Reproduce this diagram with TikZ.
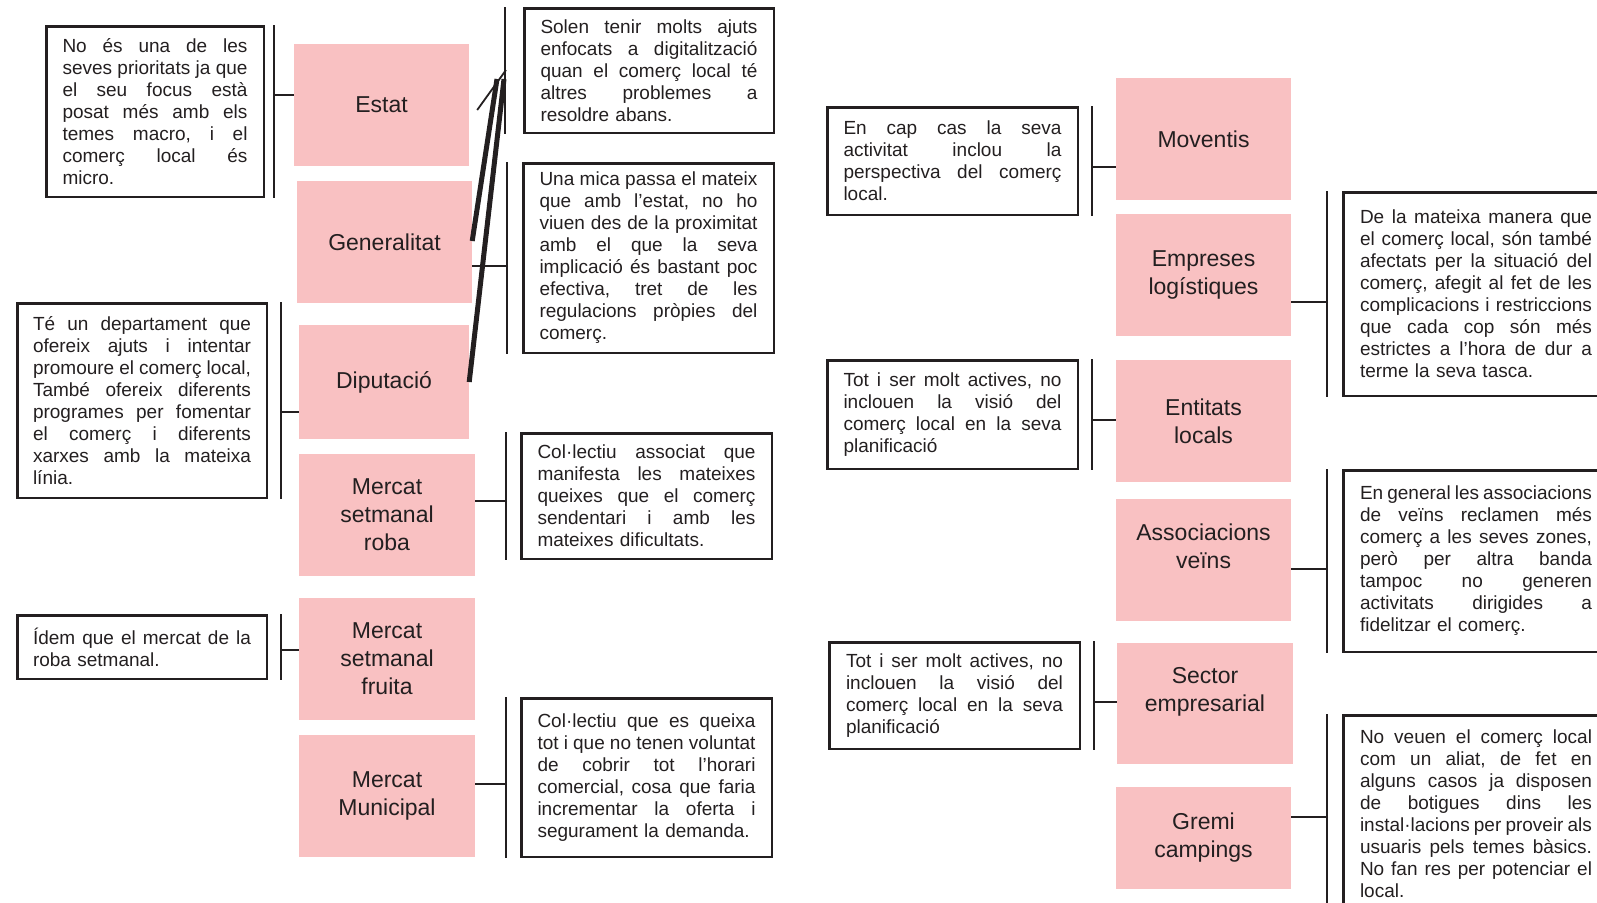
\documentclass[tikz,border=0pt]{standalone}
\usepackage{fontspec}
\setmainfont{Liberation Sans}
\usetikzlibrary{calc}
\definecolor{pinkc}{RGB}{249,193,194}
\definecolor{ink}{RGB}{35,31,32}
\newlength\mytw
\newcommand\jl[1]{\hbox to\mytw{\frenchspacing\spaceskip=0.278em plus 1fil minus 0.09em\relax #1}}
\newcommand\lastl[1]{\hbox{#1}}
\begin{document}
\begin{tikzpicture}[x=1pt,y=-1pt,
  tbox/.style={draw=ink, line width=2.5pt, text=ink, inner sep=0pt, font=\fontsize{19}{22}\selectfont},
  tw/.style={text width=#1, execute at begin node={\global\mytw=#1\relax}},
  pbox/.style={fill=pinkc, text=ink, inner sep=0pt, align=center, font=\fontsize{23}{28}\selectfont, minimum width=175pt, minimum height=122pt},
  brk/.style={draw=ink, line width=2.4pt},
  diag/.style={draw=ink, line width=#1},
]
\useasboundingbox (0,0) rectangle (1597,902);
\clip (0,0) rectangle (1597,902);

% ---------- pink boxes ----------
\node[pbox] (estat) at (381.5,105) {Estat};
\node[pbox] (gen) at (384.5,242) {Generalitat};
\node[pbox, minimum width=170pt, minimum height=114pt] (dip) at (384,382) {Diputació};
\node[pbox, minimum width=176pt] (roba) at (387,515) {Mercat\\setmanal\\roba};
\node[pbox, minimum width=176pt] (fruita) at (387,659) {Mercat\\setmanal\\fruita};
\node[pbox, minimum width=176pt] (muni) at (387,796) {Mercat\\Municipal};
\node[pbox] (moventis) at (1203.5,139) {Moventis};
\node[pbox] (empreses) at (1203.5,275) {Empreses\\logístiques};
\node[pbox] (entitats) at (1203.5,421) {Entitats\\locals};
\node[pbox] (assoc) at (1203.5,560) {Associacions\\veïns\\\mbox{}};
\node[pbox, minimum width=176pt, minimum height=121pt] (sector) at (1205,703.5) {Sector\\empresarial\\\mbox{}};
\node[pbox, minimum height=102pt] (gremi) at (1203.5,838) {Gremi\\campings};

% ---------- text boxes ----------
\node[tbox, minimum width=217.5pt, minimum height=170.5pt, tw=185pt] (A) at (155,111.5) {%
\jl{No és una de les}
\jl{seves prioritats ja que}
\jl{el seu focus està}
\jl{posat més amb els}
\jl{temes macro, i el}
\jl{comerç local és}
\lastl{micro.}};

\node[tbox, minimum width=249.5pt, minimum height=194.5pt, tw=218pt] (B) at (142,400.5) {%
\jl{Té un departament que}
\jl{ofereix ajuts i intentar}
\jl{promoure el comerç local,}
\jl{També ofereix diferents}
\jl{programes per fomentar}
\jl{el comerç i diferents}
\jl{xarxes amb la mateixa}
\lastl{línia.}};

\node[tbox, minimum width=249.5pt, minimum height=63.5pt, tw=218pt] (C) at (142,647) {%
\jl{Ídem que el mercat de la}
\lastl{roba setmanal.}};

\node[tbox, minimum width=249.5pt, minimum height=124.5pt, tw=217pt] (D) at (649,70.5) {%
\jl{Solen tenir molts ajuts}
\jl{enfocats a digitalització}
\jl{quan el comerç local té}
\jl{altres problemes a}
\lastl{resoldre abans.}};

\node[tbox, minimum width=250.5pt, minimum height=189.5pt, tw=218pt] (E) at (648.5,258) {%
\jl{Una mica passa el mateix}
\jl{que amb l’estat, no ho}
\jl{viuen des de la proximitat}
\jl{amb el que la seva}
\jl{implicació és bastant poc}
\jl{efectiva, tret de les}
\jl{regulacions pròpies del}
\lastl{comerç.}};

\node[tbox, minimum width=250.5pt, minimum height=125.5pt, tw=218pt] (F) at (646.5,496) {%
\jl{Col·lectiu associat que}
\jl{manifesta les mateixes}
\jl{queixes que el comerç}
\jl{sendentari i amb les}
\lastl{mateixes dificultats.}};

\node[tbox, minimum width=250.5pt, minimum height=158.5pt, tw=218pt] (G) at (646.5,777.5) {%
\jl{Col·lectiu que es queixa}
\jl{tot i que no tenen voluntat}
\jl{de cobrir tot l’horari}
\jl{comercial, cosa que faria}
\jl{incrementar la oferta i}
\lastl{segurament la demanda.}};

\node[tbox, minimum width=250.5pt, minimum height=107.5pt, tw=218pt] (H) at (952.5,161) {%
\jl{En cap cas la seva}
\jl{activitat inclou la}
\jl{perspectiva del comerç}
\lastl{local.}};

\node[tbox, minimum width=250.5pt, minimum height=108.5pt, tw=218pt] (I) at (952.5,414.5) {%
\jl{Tot i ser molt actives, no}
\jl{inclouen la visió del}
\jl{comerç local en la seva}
\lastl{planificació}};

\node[tbox, minimum width=250.5pt, minimum height=106.5pt, tw=217pt] (J) at (954.5,695.5) {%
\jl{Tot i ser molt actives, no}
\jl{inclouen la visió del}
\jl{comerç local en la seva}
\lastl{planificació}};

\node[tbox, minimum width=265.5pt, minimum height=203.5pt, tw=232pt] (K) at (1476,294) {%
\jl{De la mateixa manera que}
\jl{el comerç local, són també}
\jl{afectats per la situació del}
\jl{comerç, afegit al fet de les}
\jl{complicacions i restriccions}
\jl{que cada cop són més}
\jl{estrictes a l’hora de dur a}
\lastl{terme la seva tasca.}};

\node[tbox, minimum width=265.5pt, minimum height=181.5pt, tw=232pt] (L) at (1476,561) {%
\jl{En general les associacions}
\jl{de veïns reclamen més}
\jl{comerç a les seves zones,}
\jl{però per altra banda}
\jl{tampoc no generen}
\jl{activitats dirigides a}
\lastl{fidelitzar el comerç.}};

\node[tbox, minimum width=265.5pt, minimum height=197.5pt, tw=232pt] (M) at (1476,814) {%
\jl{No veuen el comerç local}
\jl{com un aliat, de fet en}
\jl{alguns casos ja disposen}
\jl{de botigues dins les}
\jl{instal·lacions per proveir als}
\jl{usuaris pels temes bàsics.}
\jl{No fan res per potenciar el}
\lastl{local.}};

% ---------- bracket verticals ----------
\draw[brk] ($(A.north east)+(9,0)$) -- ($(A.south east)+(9,0)$);
\draw[brk] ($(B.north east)+(13,0)$) -- ($(B.south east)+(13,0)$);
\draw[brk] ($(C.north east)+(13,0)$) -- ($(C.south east)+(13,0)$);
\draw[brk] ($(D.north west)+(-18,0)$) -- ($(D.south west)+(-18,0)$);
\draw[brk] ($(E.north west)+(-15,0)$) -- ($(E.south west)+(-15,0)$);
\draw[brk] ($(F.north west)+(-14,0)$) -- ($(F.south west)+(-14,0)$);
\draw[brk] ($(G.north west)+(-14,0)$) -- ($(G.south west)+(-14,0)$);
\draw[brk] ($(H.north east)+(13,0)$) -- ($(H.south east)+(13,0)$);
\draw[brk] ($(I.north east)+(13,0)$) -- ($(I.south east)+(13,0)$);
\draw[brk] ($(J.north east)+(13,0)$) -- ($(J.south east)+(13,0)$);
\draw[brk] ($(K.north west)+(-15,0)$) -- ($(K.south west)+(-15,0)$);
\draw[brk] ($(L.north west)+(-15,0)$) -- ($(L.south west)+(-15,0)$);
\draw[brk] ($(M.north west)+(-15,0)$) -- ($(M.south west)+(-15,0)$);

% ---------- bracket ticks ----------
\coordinate (tA) at (273,95);
\coordinate (tB) at (280,412);
\coordinate (tC) at (280,650);
\coordinate (tE) at (508,266);
\coordinate (tF) at (507,501);
\coordinate (tG) at (507,784);
\coordinate (tH) at (1091,167);
\coordinate (tI) at (1091,420);
\coordinate (tJ) at (1093,702);
\coordinate (tK) at (1328,302);
\coordinate (tL) at (1328,569);
\coordinate (tM) at (1328,817);
\draw[brk] (tA) -- (estat.west |- tA);
\draw[brk] (tB) -- (dip.west |- tB);
\draw[brk] (tC) -- (fruita.west |- tC);
\draw[brk] (tE) -- (gen.east |- tE);
\draw[brk] (tF) -- (roba.east |- tF);
\draw[brk] (tG) -- (muni.east |- tG);
\draw[brk] (tH) -- (moventis.west |- tH);
\draw[brk] (tI) -- (entitats.west |- tI);
\draw[brk] (tJ) -- (sector.west |- tJ);
\draw[brk] (tK) -- (empreses.east |- tK);
\draw[brk] (tL) -- (assoc.east |- tL);
\draw[brk] (tM) -- (gremi.east |- tM);

% ---------- diagonal connectors to the Solen bracket ----------
\coordinate (dj) at (506,70);
\coordinate (dg) at (497,79);
\coordinate (dd) at (504,79);
\draw[diag=1.8pt] ($(estat.east)+(8,5)$) -- (dj);
\draw[diag=5pt] ($(gen.east)+(0,-1)$) -- (dg);
\draw[diag=5pt] (dip.east) -- (dd);
\end{tikzpicture}
\end{document}
